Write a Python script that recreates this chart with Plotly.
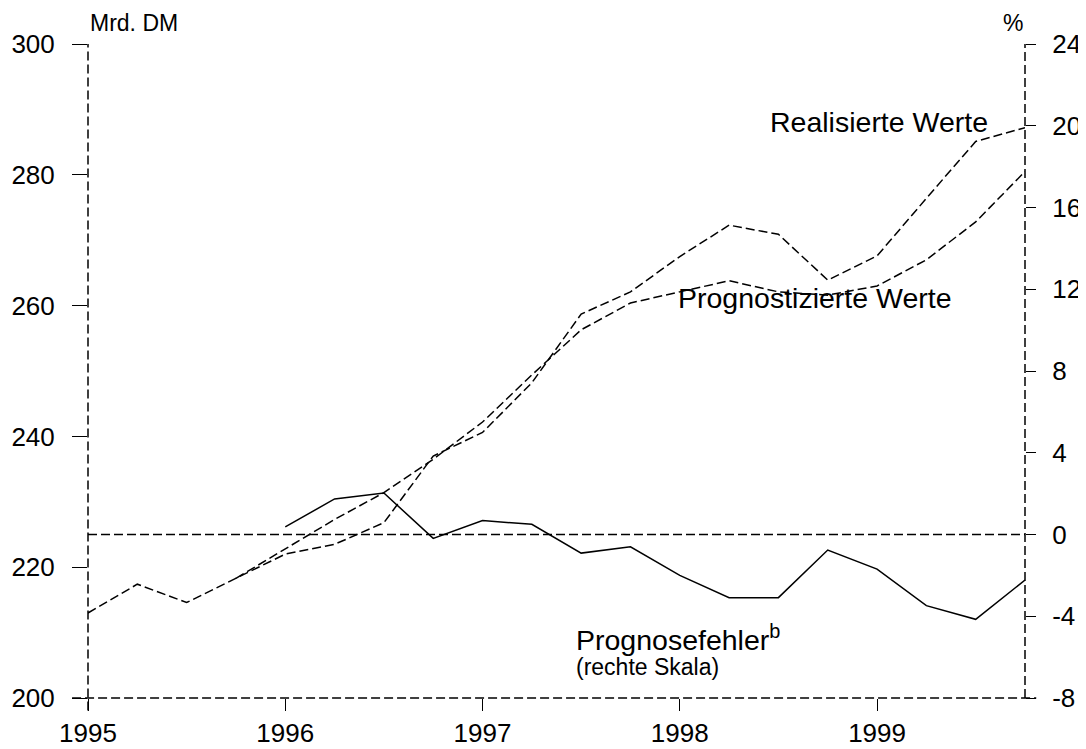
import plotly.graph_objects as go

# Quartalsdaten 1995 Q1 bis 1999 Q4
quartale = [1995 + i * 0.25 for i in range(20)]

realisiert = [213.0, 217.4, 214.6, 218.3, 222.0, 223.5, 226.8, 237.0, 240.6, 248.2,
              258.7, 262.1, 267.5, 272.3, 270.9, 263.9, 267.6, 276.4, 285.1, 287.2]
prognose = [None, None, None, 218.3, 222.8, 227.3, 231.4, 236.5, 242.2, 249.4,
            256.3, 260.4, 262.1, 263.8, 262.1, 261.6, 263.0, 267.0, 272.8, 280.5]
fehler = [None, None, None, None, 0.37, 1.74, 2.03, -0.19, 0.68, 0.50,
          -0.91, -0.60, -2.0, -3.09, -3.09, -0.76, -1.69, -3.48, -4.15, -2.23]

jahre = [1995, 1996, 1997, 1998, 1999]
links_ticks = [200, 220, 240, 260, 280, 300]
rechts_ticks = [-8, -4, 0, 4, 8, 12, 16, 20, 24]
rechts_text = ["-8", "-4", "0", "4", "8", "12", "16", "20", "24"]

schrift = "Liberation Sans, Arial, sans-serif"
strich = "9px,4px"

fig = go.Figure()
fig.add_trace(go.Scatter(x=quartale, y=realisiert, mode="lines", name="Realisierte Werte",
                         line=dict(color="black", width=1.5, dash=strich)))
fig.add_trace(go.Scatter(x=quartale, y=prognose, mode="lines", name="Prognostizierte Werte",
                         line=dict(color="black", width=1.5, dash=strich)))
fig.add_trace(go.Scatter(x=quartale, y=fehler, mode="lines", name="Prognosefehler",
                         line=dict(color="black", width=1.5), yaxis="y2"))

# gestrichelter Rahmen und Nulllinie
linie = dict(color="black", width=1.5, dash=strich)
fig.add_shape(type="line", xref="paper", yref="paper", x0=-0.017, x1=1.012, y0=0, y1=0, line=linie)
fig.add_shape(type="line", xref="paper", yref="paper", x0=0, x1=0, y0=-0.019, y1=1, line=linie)
fig.add_shape(type="line", xref="paper", yref="paper", x0=1, x1=1, y0=0, y1=1, line=linie)
fig.add_shape(type="line", xref="paper", yref="y2", x0=0, x1=1, y0=0, y1=0, line=linie)

# Seite hat 8px Rand -> Figur etwas kleiner
fig.update_layout(
    width=1078, height=741,
    margin=dict(l=80, r=61, t=36, b=51),
    plot_bgcolor="white", paper_bgcolor="white",
    showlegend=False,
    font=dict(family=schrift, size=26, color="black"),
    xaxis=dict(range=[1995, 1999.75], tickvals=jahre, ticks="outside", ticklen=12,
               tickwidth=1.3, tickcolor="black", showgrid=False, zeroline=False,
               showline=False, automargin=False, ticklabelstandoff=0),
    yaxis=dict(range=[200, 300], tickvals=links_ticks, ticks="outside", ticklen=15,
               tickwidth=1.3, tickcolor="black", showgrid=False, zeroline=False,
               showline=False, automargin=False, ticklabelstandoff=12),
    yaxis2=dict(range=[-8, 24], tickvals=rechts_ticks, ticktext=rechts_text,
                overlaying="y", side="right",
                ticks="outside", ticklen=10, tickwidth=1.3, tickcolor="black",
                showgrid=False, zeroline=False, showline=False, automargin=False,
                ticklabelstandoff=11),
)

anm = [
    dict(text="Mrd. DM", x=0, y=1, xanchor="left", yanchor="bottom", yshift=6, size=23),
    dict(text="%", x=1, y=1, xanchor="right", yanchor="bottom", yshift=6, size=23),
    dict(text="Realisierte Werte", x=0.963, y=0.881, xanchor="right", yanchor="middle", size=28.5),
    dict(text="Prognostizierte Werte", x=0.6275, y=0.6116, xanchor="left", yanchor="middle", size=28.5),
    dict(text="Prognosefehler<sup>b</sup>", x=0.5187, y=0.0917, xanchor="left", yanchor="middle", size=28.5),
    dict(text="(rechte Skala)", x=0.5187, y=0.0474, xanchor="left", yanchor="middle", size=23),
]
for a in anm:
    fig.add_annotation(text=a["text"], xref="paper", yref="paper", x=a["x"], y=a["y"],
                       xanchor=a["xanchor"], yanchor=a["yanchor"], yshift=a.get("yshift", 0),
                       showarrow=False, font=dict(family=schrift, size=a["size"], color="black"))

fig.write_html("out.html")
